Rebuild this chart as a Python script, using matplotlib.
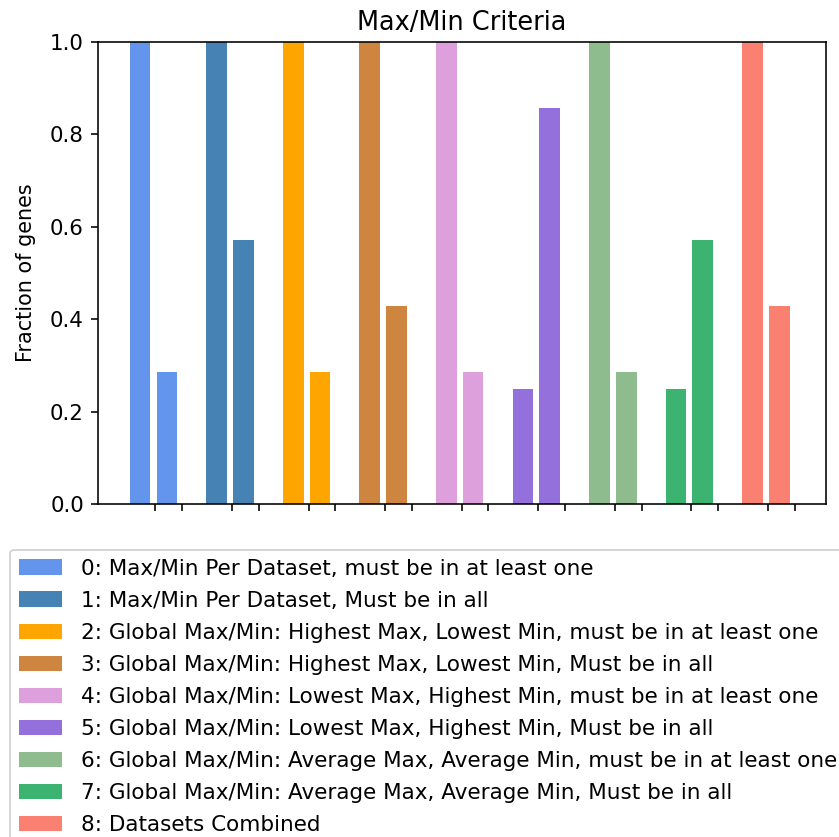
import matplotlib
matplotlib.use("Agg")
import matplotlib.pyplot as plt
import numpy as np

# criteria and their fractions (two bars per criterion)
labels = [
    "0: Max/Min Per Dataset, must be in at least one",
    "1: Max/Min Per Dataset, Must be in all",
    "2: Global Max/Min: Highest Max, Lowest Min, must be in at least one",
    "3: Global Max/Min: Highest Max, Lowest Min, Must be in all",
    "4: Global Max/Min: Lowest Max, Highest Min, must be in at least one",
    "5: Global Max/Min: Lowest Max, Highest Min, Must be in all",
    "6: Global Max/Min: Average Max, Average Min, must be in at least one",
    "7: Global Max/Min: Average Max, Average Min, Must be in all",
    "8: Datasets Combined",
]
first_vals = [1.0, 1.0, 1.0, 1.0, 1.0, 0.25, 1.0, 0.25, 1.0]
second_vals = [0.286, 0.571, 0.286, 0.429, 0.286, 0.857, 0.286, 0.571, 0.429]
colors = ["cornflowerblue", "steelblue", "orange", "peru", "plum",
          "mediumpurple", "darkseagreen", "mediumseagreen", "salmon"]

plt.rcParams["font.size"] = 10.7

width = 0.27
offset = 0.35

fig = plt.figure(figsize=(839 / 144, 837 / 144), dpi=144)
ax = fig.add_axes([0.1168, 0.3978, 0.8677, 0.552])

x = np.arange(len(labels))
for i in range(len(labels)):
    ax.bar(x[i], first_vals[i], width=width, color=colors[i], label=labels[i])
    ax.bar(x[i] + offset, second_vals[i], width=width, color=colors[i])

ticks = np.concatenate([x + 0.2, x + offset + 0.2])
ax.set_xticks(np.sort(ticks))
ax.set_xticklabels([])
ax.set_xlim(-0.55, 8.96)
ax.set_ylim(0, 1)
ax.set_yticks([0, 0.2, 0.4, 0.6, 0.8, 1.0])
ax.set_ylabel("Fraction of genes", fontsize=10.4, labelpad=7)
ax.set_title("Max/Min Criteria")

fig.legend(loc="upper left", bbox_to_anchor=(0.012, 0.343),
           bbox_transform=fig.transFigure, borderaxespad=0,
           fontsize=10.75, labelspacing=0.56, handletextpad=0.9)

fig.savefig("out.png", dpi=144)
